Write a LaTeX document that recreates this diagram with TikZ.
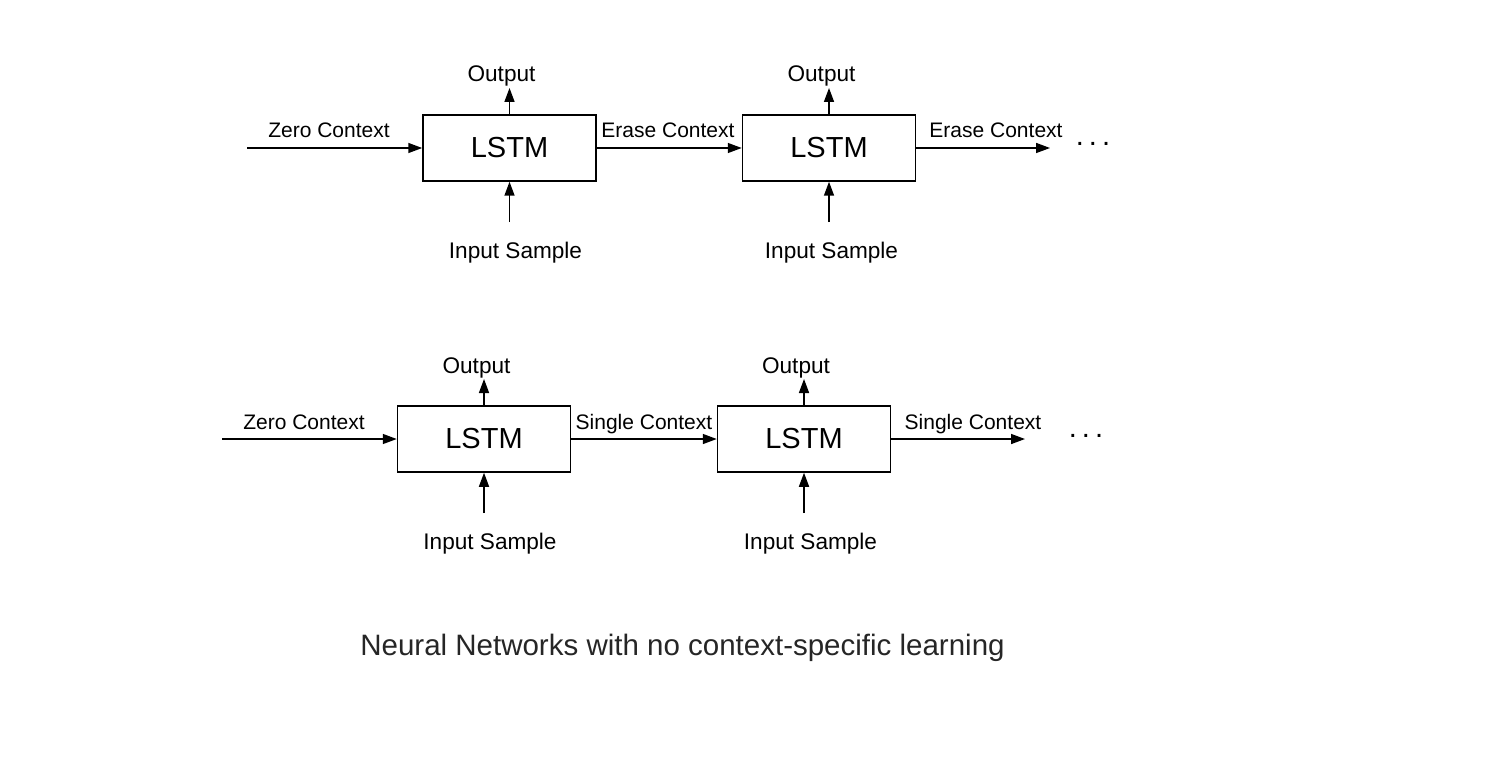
\documentclass[tikz,border=0pt]{standalone}
\usepackage{fontspec}
\setmainfont{Liberation Sans}
\usepackage{tikz}
\usetikzlibrary{arrows.meta,positioning,calc}
\definecolor{captiongray}{RGB}{38,38,38}

\begin{document}
\begin{tikzpicture}[x=1pt,y=-1pt,
    lstm/.style={draw, line width=1.5pt, minimum width=173pt, minimum height=66pt, inner sep=0pt, font=\fontsize{29}{34}\selectfont},
    lbl/.style={anchor=base, inner sep=0pt, font=\fontsize{21}{25}\selectfont},
    io/.style={lbl, font=\fontsize{22.6}{27}\selectfont},
    dots/.style={anchor=base, inner sep=0pt, font=\fontsize{29}{34}\selectfont},
    arr/.style={line width=1.5pt, -{Triangle[length=14pt,width=10pt]}}]
    \useasboundingbox (0,0) rectangle (1490,778);

    % top row: erase context
    \node[lstm] (B1) at (509.5,148) {LSTM};
    \node[lstm] (B2) at (829,148) {LSTM};
    \node[io] (O1) at (501.5,82) {Output};
    \node[io] (O2) at (821.5,82) {Output};
    \node[io] (I1) at (515.5,258) {Input Sample};
    \node[io] (I2) at (831.5,258) {Input Sample};
    \node[lbl] (Z1) at (329,138) {Zero Context};
    \node[lbl] (E1) at (668,138) {Erase Context};
    \node[lbl] (E2) at (996,138) {Erase Context};
    \node[dots] (D1) at (1093,146) {.\kern5pt.\kern5pt.};
    \coordinate (ZS1) at (247,148);
    \coordinate (ES1) at (1050,148);
    \coordinate (OE1) at (509.5,88);
    \coordinate (OE2) at (829,88);
    \coordinate (IS1) at (509.5,222);
    \coordinate (IS2) at (829,222);

    \draw[arr] (ZS1) -- (B1.west);
    \draw[arr] (B1.east) -- (B2.west);
    \draw[arr] (B2.east) -- (ES1);
    \draw[arr] (B1.north) -- (OE1);
    \draw[arr] (B2.north) -- (OE2);
    \draw[arr] (IS1) -- (B1.south);
    \draw[arr] (IS2) -- (B2.south);

    % bottom row: single context
    \node[lstm] (B3) at (484,439) {LSTM};
    \node[lstm] (B4) at (804,439) {LSTM};
    \node[io] (O3) at (476.5,373) {Output};
    \node[io] (O4) at (796,373) {Output};
    \node[io] (I3) at (490,549) {Input Sample};
    \node[io] (I4) at (810.5,549) {Input Sample};
    \node[lbl] (Z2) at (304,429) {Zero Context};
    \node[lbl] (S1) at (644,429) {Single Context};
    \node[lbl] (S2) at (973,429) {Single Context};
    \node[dots] (D2) at (1086,437) {.\kern5pt.\kern5pt.};
    \coordinate (ZS2) at (222,439);
    \coordinate (SS2) at (1025,439);
    \coordinate (OE3) at (484,379);
    \coordinate (OE4) at (804,379);
    \coordinate (IS3) at (484,513);
    \coordinate (IS4) at (804,513);

    \draw[arr] (ZS2) -- (B3.west);
    \draw[arr] (B3.east) -- (B4.west);
    \draw[arr] (B4.east) -- (SS2);
    \draw[arr] (B3.north) -- (OE3);
    \draw[arr] (B4.north) -- (OE4);
    \draw[arr] (IS3) -- (B3.south);
    \draw[arr] (IS4) -- (B4.south);

    \node[anchor=base, inner sep=0pt, text=captiongray, font=\fontsize{29.5}{35}\selectfont] (cap) at (682.5,655) {Neural Networks with no context-specific learning};
\end{tikzpicture}
\end{document}
